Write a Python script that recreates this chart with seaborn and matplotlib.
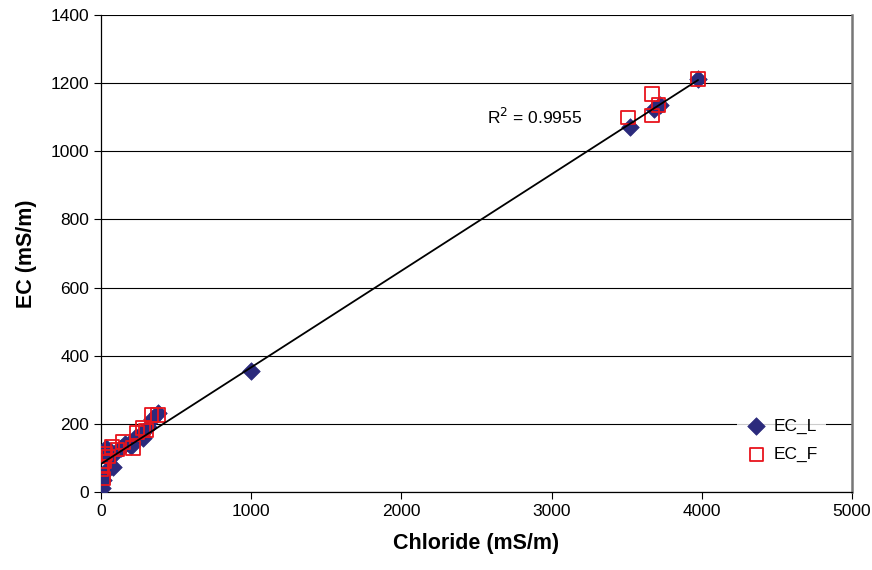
import numpy as np
import pandas as pd
import matplotlib
matplotlib.use("Agg")
import matplotlib.pyplot as plt
import seaborn as sns

# Data
ecl_x = [5, 15, 25, 30, 45, 60, 80, 100, 130, 160, 200, 230, 260, 280, 310, 340, 380, 999, 3522, 3680, 3722, 3975]
ecl_y = [12, 35, 60, 129, 100, 120, 73, 118, 130, 140, 135, 160, 165, 158, 190, 215, 232, 355, 1071, 1125, 1136, 1212]
ecf_x = [5, 10, 15, 20, 30, 50, 73, 110, 146, 213, 240, 280, 300, 337, 380, 3509, 3669, 3669, 3709, 3975]
ecf_y = [65, 75, 40, 90, 114, 105, 132, 125, 147, 129, 175, 188, 180, 226, 226, 1100, 1168, 1104, 1136, 1212]
x_ticks = [0, 1000, 2000, 3000, 4000, 5000]
y_ticks = [0, 200, 400, 600, 800, 1000, 1200, 1400]
r2_label = "R$^2$ = 0.9955"

sns.set_style("white")
plt.rcParams['font.family'] = ['Liberation Sans', 'DejaVu Sans']
plt.rcParams['text.color'] = 'black'
plt.rcParams['axes.labelcolor'] = 'black'
plt.rcParams['xtick.color'] = 'black'
plt.rcParams['ytick.color'] = 'black'

df_l = pd.DataFrame({"Chloride": ecl_x, "EC": ecl_y})
df_f = pd.DataFrame({"Chloride": ecf_x, "EC": ecf_y})

fig = plt.figure(figsize=(8.72, 5.70), dpi=100)
ax = fig.add_axes([101/872, 78/570, 751/872, 477/570])

sns.scatterplot(data=df_l, x="Chloride", y="EC", ax=ax, marker="D", s=80,
                color="#2B2A7C", edgecolor="#2B2A7C", linewidth=0.5, label="EC_L", zorder=3)
sns.scatterplot(data=df_f, x="Chloride", y="EC", ax=ax, marker="s", s=90,
                facecolor="none", edgecolor="#E8141C", linewidth=1.3, label="EC_F", zorder=4)
sns.regplot(data=df_l, x="Chloride", y="EC", ax=ax, scatter=False, ci=None,
            truncate=True, line_kws=dict(color="black", linewidth=1.3, zorder=5))

ax.set_xlim(0, 5000)
ax.set_ylim(0, 1400)
ax.set_xticks(x_ticks)
ax.set_yticks(y_ticks)
ax.tick_params(axis="both", labelsize=12.5, direction="out", length=5, width=0.8,
               colors="black", bottom=True, left=True)
ax.yaxis.grid(True, color="black", linewidth=0.8)
ax.xaxis.grid(False)
ax.set_axisbelow(True)
for s in ["left", "bottom"]:
    ax.spines[s].set_color("black")
    ax.spines[s].set_linewidth(0.9)
ax.spines["top"].set_visible(False)
ax.spines["right"].set_color("#777777")
ax.spines["right"].set_linewidth(1.8)

ax.set_xlabel("Chloride (mS/m)", fontsize=15.5, fontweight="bold", labelpad=10, color="black")
ax.set_ylabel("EC (mS/m)", fontsize=15.5, fontweight="bold", labelpad=10, color="black")

ax.text(2570, 1100, r2_label, fontsize=12.5, ha="left", va="center", color="black")

leg = ax.legend(loc="upper left", bbox_to_anchor=(0.847, 0.172), frameon=True,
                fontsize=12.5, handletextpad=0.4, borderpad=0.5, labelspacing=0.75,
                handlelength=1.2, borderaxespad=0)
leg.get_frame().set_facecolor("white")
leg.get_frame().set_edgecolor("white")
leg.get_frame().set_linewidth(0)
for t in leg.get_texts():
    t.set_color("black")

fig.savefig("out.png", dpi=100)
